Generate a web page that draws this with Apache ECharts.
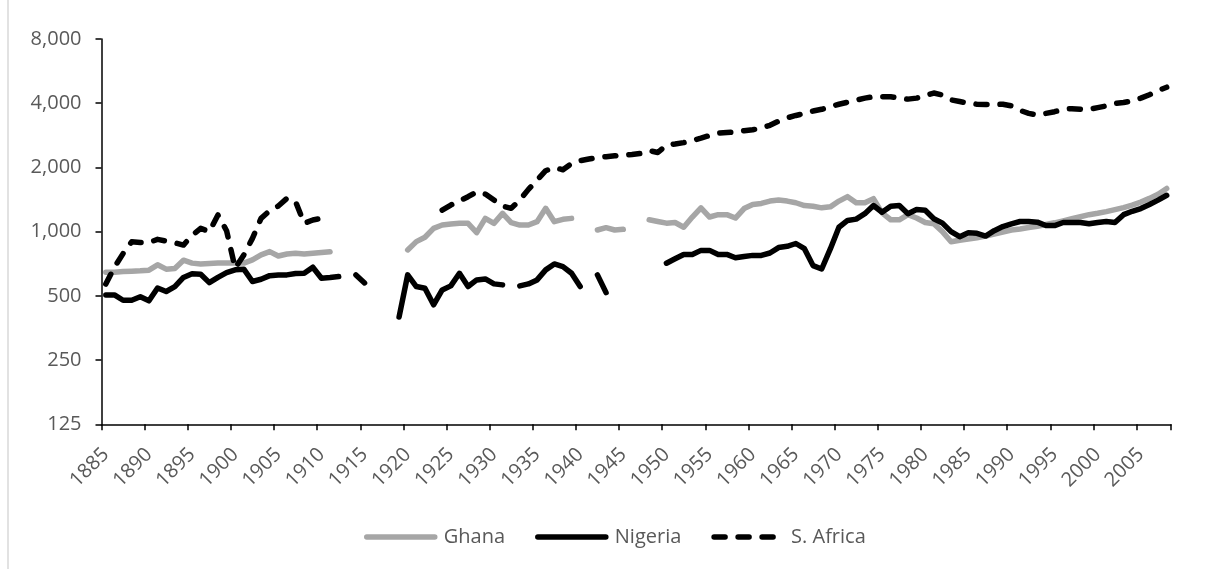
<!DOCTYPE html>
<html>
<head>
<meta charset="utf-8">
<script src="https://cdn.jsdelivr.net/npm/echarts@6/dist/echarts.min.js"></script>
<style>
html,body{margin:0;padding:0;background:#ffffff;}
#chart{width:1215px;height:569px;}
</style>
</head>
<body>
<div id="chart"></div>
<script>
// ---- data ----
const years = [
  1885,1886,1887,1888,1889,1890,1891,1892,1893,1894,1895,1896,1897,1898,1899,
  1900,1901,1902,1903,1904,1905,1906,1907,1908,1909,1910,1911,1912,1913,1914,
  1915,1916,1917,1918,1919,1920,1921,1922,1923,1924,1925,1926,1927,1928,1929,
  1930,1931,1932,1933,1934,1935,1936,1937,1938,1939,1940,1941,1942,1943,1944,
  1945,1946,1947,1948,1949,1950,1951,1952,1953,1954,1955,1956,1957,1958,1959,
  1960,1961,1962,1963,1964,1965,1966,1967,1968,1969,1970,1971,1972,1973,1974,
  1975,1976,1977,1978,1979,1980,1981,1982,1983,1984,1985,1986,1987,1988,1989,
  1990,1991,1992,1993,1994,1995,1996,1997,1998,1999,2000,2001,2002,2003,2004,
  2005,2006,2007,2008
];

const ghana = [
  645,645,650,652,655,660,699,667,672,735,712,706,710,712,712,
  712,712,737,778,806,769,786,792,786,792,798,805,null,null,null,
  null,null,null,null,null,821,898,941,1036,1074,1086,1094,1094,989,1154,
  1094,1218,1102,1074,1074,1114,1286,1114,1142,1154,null,null,1018,1044,1018,
  1025,null,null,1137,1116,1096,1104,1049,1171,1293,1171,1201,1201,1158,1283,
  1341,1356,1391,1406,1391,1366,1326,1316,1293,1307,1391,1459,1366,1366,1427,
  1224,1137,1137,1201,1158,1104,1088,1000,896,912,923,936,953,975,996,
  1018,1030,1045,1060,1080,1100,1124,1150,1175,1201,1219,1242,1269,1297,1331,
  1376,1432,1497,1593
];

const nigeria = [
  505,505,477,477,495,474,544,524,552,610,635,632,577,611,643,
  662,667,584,598,622,627,627,636,638,681,605,609,616,null,627,
  575,null,null,null,398,627,553,543,454,533,557,638,553,594,600,
  569,563,null,557,569,594,662,706,686,638,553,null,627,518,null,
  null,null,null,null,null,711,746,782,782,817,817,782,782,754,765,
  774,774,794,842,854,880,832,693,668,830,1049,1129,1145,1214,1326,
  1233,1316,1326,1214,1269,1260,1150,1096,1000,947,989,982,953,1011,1056,
  1088,1116,1116,1108,1068,1068,1104,1104,1104,1088,1104,1116,1104,1201,1246,
  1283,1341,1406,1481
];

const southAfrica = [
  568,682,789,896,890,890,920,903,887,865,960,1036,1000,1197,1010,
  674,778,930,1154,1254,1319,1432,1381,1094,1134,1154,null,null,null,null,
  null,null,null,null,null,null,null,null,null,1263,1333,1392,1458,1539,1500,
  1406,1319,1286,1406,1578,1745,1930,2000,1950,2088,2150,2190,2227,2245,2268,
  2284,2300,2326,2400,2350,2548,2575,2614,2672,2742,2823,2896,2917,2928,2971,
  3002,3060,3152,3294,3416,3505,3583,3676,3745,3856,3956,4044,4135,4226,4288,
  4288,4288,4226,4180,4226,4336,4466,4368,4149,4073,4000,3956,3940,3940,3956,
  3885,3703,3583,3518,3583,3650,3745,3772,3745,3745,3814,3885,3986,4030,4104,
  4226,4384,4580,4754
];

const yTickValues = [125, 250, 500, 1000, 2000, 4000, 8000];
const seriesNames = ['Ghana', 'Nigeria', 'S. Africa'];

// ---- chart ----
const FONT = '"Open Sans", "Noto Sans", sans-serif';
const TEXT_COLOR = '#595959';
const chart = echarts.init(document.getElementById('chart'), null, { renderer: 'canvas' });

const option = {
  animation: false,
  backgroundColor: '#ffffff',
  graphic: [{
    type: 'line',
    shape: { x1: 8, y1: 0, x2: 8, y2: 569 },
    style: { stroke: '#d9d9d9', lineWidth: 1.5 },
    silent: true
  }],
  grid: { left: 101.5, right: 44, top: 39, bottom: 144.7, containLabel: false },
  legend: {
    data: seriesNames,
    left: 359,
    top: 522,
    itemWidth: 68,
    itemHeight: 20,
    itemGap: 30,
    itemStyle: { opacity: 0, borderWidth: 0 },
    lineStyle: { width: 5.5, cap: 'round' },
    textStyle: { fontFamily: FONT, fontSize: 20, color: TEXT_COLOR, padding: [0, 0, 0, 4] }
  },
  xAxis: {
    type: 'category',
    data: years.map(String),
    boundaryGap: true,
    axisLine: { show: true, lineStyle: { color: '#000000', width: 1.5 } },
    axisTick: { show: true, interval: 4, length: 6, inside: false, lineStyle: { color: '#000000', width: 1.5 } },
    axisLabel: { interval: 4, rotate: 45, margin: 27, color: TEXT_COLOR, fontFamily: FONT, fontSize: 20 },
    splitLine: { show: false }
  },
  yAxis: {
    type: 'log',
    logBase: 2,
    min: 125,
    max: 8000,
    axisLine: { show: true, lineStyle: { color: '#000000', width: 1.5 } },
    axisTick: { show: true, length: 6, customValues: yTickValues, lineStyle: { color: '#000000', width: 1.5 } },
    axisLabel: {
      customValues: yTickValues,
      margin: 20,
      color: TEXT_COLOR, fontFamily: FONT, fontSize: 20,
      formatter: function (v) { return Math.round(v).toLocaleString('en-US'); }
    },
    splitLine: { show: false }
  },
  series: [
    {
      name: 'Ghana', type: 'line', data: ghana, symbol: 'none', connectNulls: false,
      itemStyle: { color: '#a6a6a6' },
      lineStyle: { color: '#a6a6a6', width: 5.5, cap: 'round', join: 'round' }
    },
    {
      name: 'Nigeria', type: 'line', data: nigeria, symbol: 'none', connectNulls: false,
      itemStyle: { color: '#000000' },
      lineStyle: { color: '#000000', width: 5.5, cap: 'round', join: 'round' }
    },
    {
      name: 'S. Africa', type: 'line', data: southAfrica, symbol: 'none', connectNulls: false,
      itemStyle: { color: '#000000' },
      lineStyle: { color: '#000000', width: 5.5, type: [11, 13], cap: 'round', join: 'round' }
    }
  ]
};
chart.setOption(option);
</script>
</body>
</html>
